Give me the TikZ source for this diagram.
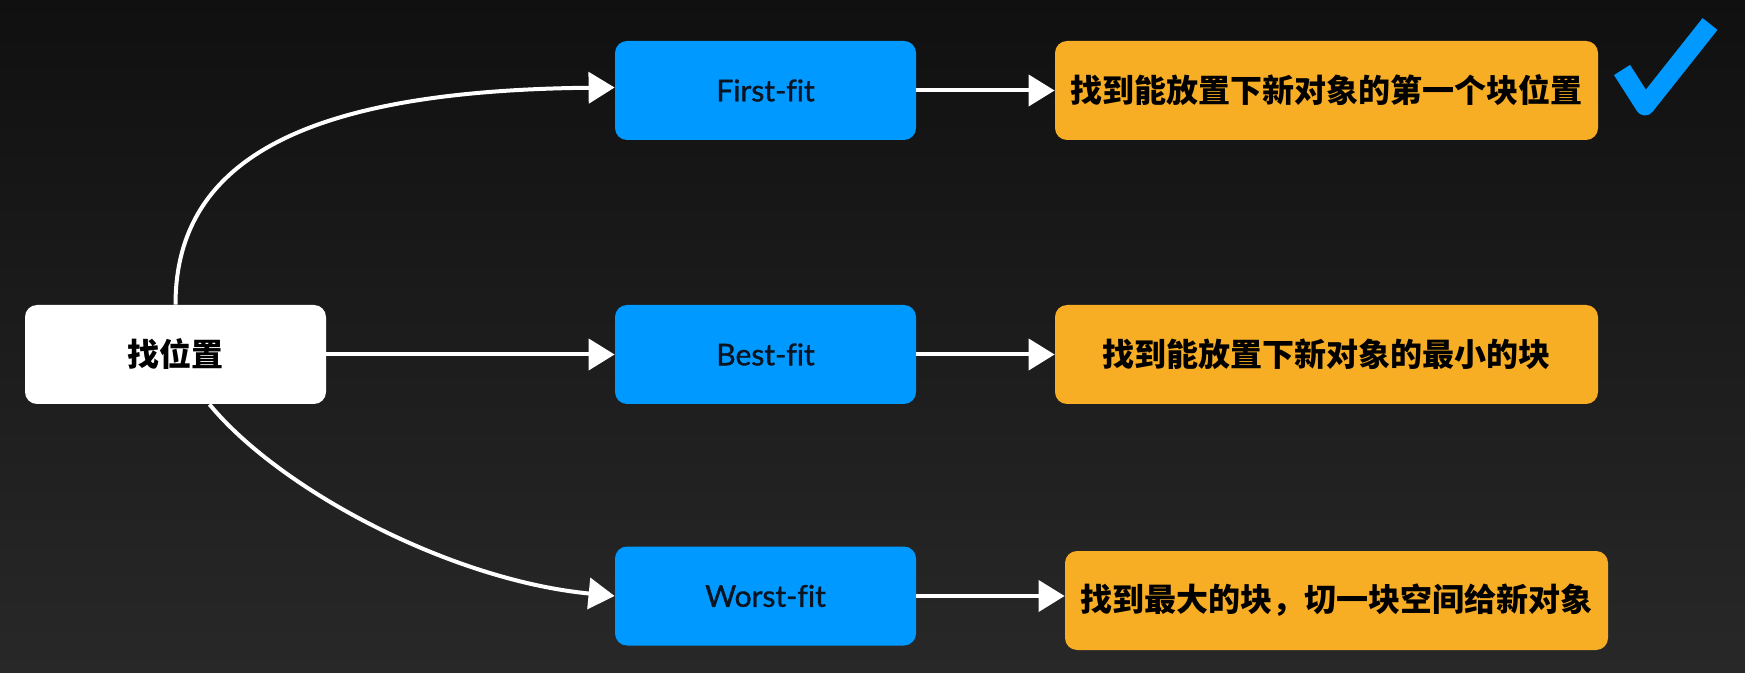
\documentclass[tikz,border=0pt]{standalone}
\usepackage{fontspec}
\setmainfont{Lato}
\newfontfamily\latomed{Lato}[FakeBold=1.2,Ligatures=NoCommon]
\newfontfamily\cjk{Noto Sans CJK SC}
\usetikzlibrary{arrows.meta}
\definecolor{bgtop}{HTML}{101010}
\definecolor{bgbot}{HTML}{282828}
\definecolor{fitblue}{HTML}{0099FF}
\definecolor{resorange}{HTML}{F8AE24}
\definecolor{inktext}{HTML}{0B1522}
\tikzset{
  boxbase/.style={rounded corners=6pt, inner sep=0pt, minimum height=49.5pt},
  startbox/.style={boxbase, fill=white, minimum width=150.5pt, font=\cjk\bfseries\fontsize{16}{18}\selectfont, text=black},
  fitbox/.style={boxbase, fill=fitblue, minimum width=150.5pt, font=\latomed\fontsize{15}{18}\selectfont, text=inktext},
  resbox/.style={boxbase, fill=resorange, minimum width=271.5pt, font=\cjk\bfseries\fontsize{16}{18}\selectfont, text=black},
  chalk/.style={draw=white, line width=2pt, -{Triangle[length=13pt,width=15.5pt,fill=white]}},
  tick/.style={draw=fitblue, line width=9.5pt, line join=round, line cap=butt}
}
\begin{document}
\begin{tikzpicture}[x=0.5pt,y=-0.5pt]
\useasboundingbox (0,0) rectangle (1745,673);
\fill[top color=bgtop, bottom color=bgbot] (0,0) rectangle (1745,673);

\node[startbox] (find) at (175.5,354.5) {找位置};

\node[fitbox] (ff) at (765.5,90.5) {First-fit};
\node[fitbox] (bf) at (765.5,354.5) {Best-fit};
\node[fitbox] (wf) at (765.5,596) {Worst-fit};

\node[resbox] (r1) at (1326.5,90.5) {找到能放置下新对象的第一个块位置};
\node[resbox] (r2) at (1326.5,354.5) {找到能放置下新对象的最小的块};
\node[resbox] (r3) at (1336.5,600.5) {找到最大的块，切一块空间给新对象};

\draw[chalk] (find.north) .. controls +(0,-150) and +(-300,3) .. ([yshift=1.5pt]ff.west);
\draw[chalk] (find.east) -- (bf.west);
\draw[chalk] ([xshift=17pt]find.south) .. controls +(70,85) and +(-165,-16) .. (wf.west);

\draw[chalk] (ff.east) -- (r1.west);
\draw[chalk] (bf.east) -- (r2.west);
\draw[chalk] (wf.east) -- (wf.east -| r3.west);

\coordinate (t1) at (1622,70);
\coordinate (t2) at (1645,106);
\coordinate (t3) at (1710,24);
\draw[tick] (t1) -- (t2) -- (t3);
\end{tikzpicture}
\end{document}
